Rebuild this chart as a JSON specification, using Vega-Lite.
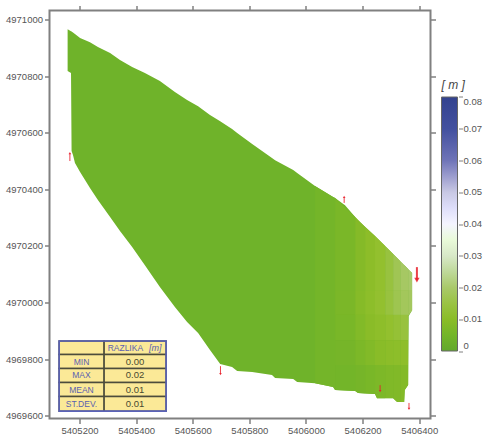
{"$schema":"https://vega.github.io/schema/vega-lite/v6.json","width":381,"height":408,"autosize":"none","padding":{"left":49.5,"top":10.5,"right":55.5,"bottom":22.5},"background":"white","view":{"stroke":"#808080","strokeWidth":2,"fill":null},
"config":{"font":"Liberation Sans","axis":{"grid":false,"domain":false,"tickColor":"#808080","tickWidth":1.5,"tickSize":5,"labelFont":"Liberation Sans","labelFontSize":9.5,"labelColor":"#555555","labelPadding":2,"title":null,"format":"d"}},
"datasets":{
"surface":[
{"x":5405158,"top":4970966,"bot":4970818,"v":0.004},{"x":5405170,"top":4970959,"bot":4970811,"v":0.004},{"x":5405172,"top":4970958,"bot":4970535,"v":0.004},{"x":5405177,"top":4970954,"bot":4970521,"v":0.004},{"x":5405184,"top":4970949,"bot":4970493,"v":0.004},{"x":5405202,"top":4970935,"bot":4970461,"v":0.004},{"x":5405237,"top":4970920,"bot":4970405,"v":0.004},{"x":5405265,"top":4970903,"bot":4970362,"v":0.004},{"x":5405308,"top":4970882,"bot":4970302,"v":0.004},{"x":5405343,"top":4970857,"bot":4970253,"v":0.004},{"x":5405386,"top":4970832,"bot":4970196,"v":0.004},{"x":5405431,"top":4970811,"bot":4970132,"v":0.004},{"x":5405484,"top":4970783,"bot":4970055,"v":0.004},{"x":5405537,"top":4970744,"bot":4969984,"v":0.004},{"x":5405580,"top":4970716,"bot":4969931,"v":0.004},{"x":5405619,"top":4970694,"bot":4969892,"v":0.004},{"x":5405661,"top":4970663,"bot":4969832,"v":0.004},{"x":5405697,"top":4970641,"bot":4969783,"v":0.004},{"x":5405739,"top":4970613,"bot":4969772,"v":0.004},{"x":5405757,"top":4970599,"bot":4969758,"v":0.004},{"x":5405810,"top":4970560,"bot":4969754,"v":0.004},{"x":5405880,"top":4970511,"bot":4969744,"v":0.004},{"x":5405891,"top":4970503,"bot":4969733,"v":0.004},{"x":5405955,"top":4970468,"bot":4969730,"v":0.004},{"x":5405969,"top":4970458,"bot":4969719,"v":0.004},{"x":5406032,"top":4970412,"bot":4969715,"v":0.004},{"x":5406096,"top":4970373,"bot":4969701,"v":0.004},{"x":5406103,"top":4970369,"bot":4969691,"v":0.004},{"x":5406138,"top":4970344,"bot":4969689,"v":0.004},{"x":5406174,"top":4970302,"bot":4969687,"v":0.004},{"x":5406184,"top":4970291,"bot":4969680,"v":0.004},{"x":5406244,"top":4970235,"bot":4969677,"v":0.004},{"x":5406251,"top":4970228,"bot":4969662,"v":0.004},{"x":5406308,"top":4970171,"bot":4969662,"v":0.004},{"x":5406322,"top":4970157,"bot":4969648,"v":0.004},{"x":5406347,"top":4970132,"bot":4969648,"v":0.004},{"x":5406349,"top":4970131,"bot":4969691,"v":0.004},{"x":5406361,"top":4970118,"bot":4969708,"v":0.004},{"x":5406363,"top":4970116,"bot":4969952,"v":0.004},{"x":5406375,"top":4970104,"bot":4969973,"v":0.004}],
"strips":[
{"id":"z","x":5406032,"top":4970412,"bot":4969715,"v":0.0052},{"id":"z","x":5406096,"top":4970373,"bot":4969701,"v":0.0052},{"id":"z","x":5406103,"top":4970369,"bot":4969691,"v":0.0052},
{"id":"a1","x":5406103,"top":4970369,"bot":4970044,"v":0.0065},{"id":"a1","x":5406174,"top":4970302,"bot":4970044,"v":0.0065},
{"id":"a2","x":5406103,"top":4970044,"bot":4969956,"v":0.0067},{"id":"a2","x":5406174,"top":4970044,"bot":4969956,"v":0.0067},
{"id":"a3","x":5406103,"top":4969956,"bot":4969867,"v":0.0062},{"id":"a3","x":5406174,"top":4969956,"bot":4969867,"v":0.0062},
{"id":"a4","x":5406103,"top":4969867,"bot":4969779,"v":0.0055},{"id":"a4","x":5406174,"top":4969867,"bot":4969779,"v":0.0055},
{"id":"a5","x":5406103,"top":4969779,"bot":4969691,"v":0.005},{"id":"a5","x":5406174,"top":4969779,"bot":4969687,"v":0.005},
{"id":"b1","x":5406174,"top":4970302,"bot":4970044,"v":0.0088},{"id":"b1","x":5406209,"top":4970267,"bot":4970044,"v":0.0088},
{"id":"b2","x":5406174,"top":4970044,"bot":4969956,"v":0.0092},{"id":"b2","x":5406209,"top":4970044,"bot":4969956,"v":0.0092},
{"id":"b3","x":5406174,"top":4969956,"bot":4969867,"v":0.0083},{"id":"b3","x":5406209,"top":4969956,"bot":4969867,"v":0.0083},
{"id":"b4","x":5406174,"top":4969867,"bot":4969779,"v":0.007},{"id":"b4","x":5406209,"top":4969867,"bot":4969779,"v":0.007},
{"id":"b5","x":5406174,"top":4969779,"bot":4969687,"v":0.0055},{"id":"b5","x":5406184,"top":4969779,"bot":4969680,"v":0.0055},{"id":"b5","x":5406209,"top":4969779,"bot":4969678,"v":0.0055},
{"id":"c1","x":5406209,"top":4970267,"bot":4970044,"v":0.0108},{"id":"c1","x":5406244,"top":4970235,"bot":4970044,"v":0.0108},
{"id":"c2","x":5406209,"top":4970044,"bot":4969956,"v":0.011},{"id":"c2","x":5406244,"top":4970044,"bot":4969956,"v":0.011},
{"id":"c3","x":5406209,"top":4969956,"bot":4969867,"v":0.01},{"id":"c3","x":5406244,"top":4969956,"bot":4969867,"v":0.01},
{"id":"c4","x":5406209,"top":4969867,"bot":4969779,"v":0.0083},{"id":"c4","x":5406244,"top":4969867,"bot":4969779,"v":0.0083},
{"id":"c5","x":5406209,"top":4969779,"bot":4969678,"v":0.0063},{"id":"c5","x":5406244,"top":4969779,"bot":4969677,"v":0.0063},
{"id":"d1","x":5406244,"top":4970235,"bot":4970044,"v":0.0127},{"id":"d1","x":5406280,"top":4970200,"bot":4970044,"v":0.0127},
{"id":"d2","x":5406244,"top":4970044,"bot":4969956,"v":0.0128},{"id":"d2","x":5406280,"top":4970044,"bot":4969956,"v":0.0128},
{"id":"d3","x":5406244,"top":4969956,"bot":4969867,"v":0.0113},{"id":"d3","x":5406280,"top":4969956,"bot":4969867,"v":0.0113},
{"id":"d4","x":5406244,"top":4969867,"bot":4969779,"v":0.0097},{"id":"d4","x":5406280,"top":4969867,"bot":4969779,"v":0.0097},
{"id":"d5","x":5406244,"top":4969779,"bot":4969677,"v":0.0072},{"id":"d5","x":5406251,"top":4969779,"bot":4969662,"v":0.0072},{"id":"d5","x":5406280,"top":4969779,"bot":4969662,"v":0.0072},
{"id":"e1","x":5406280,"top":4970200,"bot":4970044,"v":0.0145},{"id":"e1","x":5406308,"top":4970171,"bot":4970044,"v":0.0145},
{"id":"e2","x":5406280,"top":4970044,"bot":4969956,"v":0.0145},{"id":"e2","x":5406308,"top":4970044,"bot":4969956,"v":0.0145},
{"id":"e3","x":5406280,"top":4969956,"bot":4969867,"v":0.0127},{"id":"e3","x":5406308,"top":4969956,"bot":4969867,"v":0.0127},
{"id":"e4","x":5406280,"top":4969867,"bot":4969779,"v":0.0105},{"id":"e4","x":5406308,"top":4969867,"bot":4969779,"v":0.0105},
{"id":"e5","x":5406280,"top":4969779,"bot":4969662,"v":0.0077},{"id":"e5","x":5406308,"top":4969779,"bot":4969662,"v":0.0077},
{"id":"f1","x":5406308,"top":4970171,"bot":4970044,"v":0.017},{"id":"f1","x":5406333,"top":4970147,"bot":4970044,"v":0.017},
{"id":"f2","x":5406308,"top":4970044,"bot":4969956,"v":0.0165},{"id":"f2","x":5406333,"top":4970044,"bot":4969956,"v":0.0165},
{"id":"f3","x":5406308,"top":4969956,"bot":4969867,"v":0.0135},{"id":"f3","x":5406333,"top":4969956,"bot":4969867,"v":0.0135},
{"id":"f4","x":5406308,"top":4969867,"bot":4969779,"v":0.011},{"id":"f4","x":5406333,"top":4969867,"bot":4969779,"v":0.011},
{"id":"f5","x":5406308,"top":4969779,"bot":4969662,"v":0.008},{"id":"f5","x":5406322,"top":4969779,"bot":4969648,"v":0.008},{"id":"f5","x":5406333,"top":4969779,"bot":4969648,"v":0.008},
{"id":"g1","x":5406333,"top":4970147,"bot":4970044,"v":0.019},{"id":"g1","x":5406361,"top":4970118,"bot":4970044,"v":0.019},
{"id":"g2","x":5406333,"top":4970044,"bot":4969956,"v":0.018},{"id":"g2","x":5406361,"top":4970044,"bot":4969956,"v":0.018},
{"id":"g3","x":5406333,"top":4969956,"bot":4969867,"v":0.0143},{"id":"g3","x":5406361,"top":4969956,"bot":4969867,"v":0.0143},
{"id":"g4","x":5406333,"top":4969867,"bot":4969779,"v":0.0113},{"id":"g4","x":5406361,"top":4969867,"bot":4969779,"v":0.0113},
{"id":"g5","x":5406333,"top":4969779,"bot":4969648,"v":0.0085},{"id":"g5","x":5406347,"top":4969779,"bot":4969648,"v":0.0085},{"id":"g5","x":5406349,"top":4969779,"bot":4969691,"v":0.0085},{"id":"g5","x":5406361,"top":4969779,"bot":4969708,"v":0.0085},
{"id":"h1","x":5406361,"top":4970118,"bot":4970044,"v":0.02},{"id":"h1","x":5406375,"top":4970104,"bot":4970044,"v":0.02},
{"id":"h2","x":5406361,"top":4970044,"bot":4969952,"v":0.0185},{"id":"h2","x":5406375,"top":4970044,"bot":4969973,"v":0.0185}],
"arrows":[
{"x":5405166,"tail":4970500,"tip":4970528,"dir":"up","d":1},
{"x":5405698,"tail":4969775,"tip":4969747,"dir":"down","d":1},
{"x":5406135,"tail":4970352,"tip":4970373,"dir":"up","d":1},
{"x":5406392,"tail":4970125,"tip":4970079,"dir":"down","d":3},
{"x":5406262,"tail":4969708,"tip":4969687,"dir":"down","d":1},
{"x":5406364,"tail":4969645,"tip":4969624,"dir":"down","d":1}],
"cells":[
{"x0":5405128,"x1":5405287,"y0":4969864,"y1":4969816},{"x0":5405287,"x1":5405506,"y0":4969864,"y1":4969816},
{"x0":5405128,"x1":5405287,"y0":4969816,"y1":4969767},{"x0":5405287,"x1":5405506,"y0":4969816,"y1":4969767},
{"x0":5405128,"x1":5405287,"y0":4969767,"y1":4969717},{"x0":5405287,"x1":5405506,"y0":4969767,"y1":4969717},
{"x0":5405128,"x1":5405287,"y0":4969717,"y1":4969668},{"x0":5405287,"x1":5405506,"y0":4969717,"y1":4969668},
{"x0":5405128,"x1":5405287,"y0":4969668,"y1":4969616},{"x0":5405287,"x1":5405506,"y0":4969668,"y1":4969616}],
"scaleTicks":[{"v":0},{"v":0.01},{"v":0.02},{"v":0.03},{"v":0.04},{"v":0.05},{"v":0.06},{"v":0.07},{"v":0.08}]},
"resolve":{"scale":{"y":"independent"},"axis":{"x":"independent","y":"independent"}},
"layer":[
{"resolve":{"axis":{"x":"independent","y":"independent"}},
"layer":[
{"data":{"name":"surface"},"mark":{"type":"area","clip":true},"encoding":{
"x":{"field":"x","type":"quantitative","scale":{"domain":[5405094,5406440],"nice":false,"zero":false},"axis":{"orient":"bottom","values":[5405200,5405400,5405600,5405800,5406000,5406200,5406400]}},
"y":{"field":"top","type":"quantitative","scale":{"domain":[4969590,4971032],"nice":false,"zero":false},"axis":{"orient":"left","values":[4969600,4969800,4970000,4970200,4970400,4970600,4970800,4971000]}},
"y2":{"field":"bot"},
"color":{"field":"v","type":"quantitative","scale":{"domain":[0,0.004,0.0065,0.01,0.0125,0.02,0.03,0.038,0.05,0.06,0.07,0.08],"range":["#62a82c","#6fb32a","#7ab728","#8abc28","#92c02c","#a9c96a","#d8e8c8","#ffffff","#c8c8e4","#6f74b8","#42509f","#33428f"]},
"legend":{"orient":"none","legendX":392,"legendY":69.5,"direction":"vertical","title":"[ m ]","titleFontStyle":"italic","titleFontWeight":"normal","titleFontSize":12,"titleColor":"#444444","titlePadding":5,"titleFont":"Liberation Sans","gradientLength":254,"gradientThickness":16,"gradientStrokeColor":"#666666","gradientStrokeWidth":1,"values":[0,0.01,0.02,0.03,0.04,0.05,0.06,0.07,0.08],"format":".2~f","labelFontSize":9.5,"labelColor":"#555555","labelFont":"Liberation Sans","labelOffset":6}}}},
{"data":{"name":"strips"},"mark":{"type":"area"},"encoding":{
"x":{"field":"x","type":"quantitative","axis":null},
"y":{"field":"top","type":"quantitative","axis":null},
"y2":{"field":"bot"},
"detail":{"field":"id"},
"color":{"field":"v","type":"quantitative"}}},
{"data":{"name":"cells"},"mark":{"type":"rect","fill":"#fbe997","stroke":"#4c4c3c","strokeWidth":1.5},"encoding":{
"x":{"field":"x0","type":"quantitative","axis":{"orient":"top","labels":false,"values":[5405200,5405400,5405600,5405800,5406000,5406200,5406400]}},"x2":{"field":"x1"},
"y":{"field":"y0","type":"quantitative","axis":{"orient":"right","labels":false,"values":[4969600,4969800,4970000,4970200,4970400,4970600,4970800,4971000]}},"y2":{"field":"y1"}}},
{"data":{"values":[{"x0":5405128,"x1":5405506,"y0":4969864,"y1":4969616}]},"mark":{"type":"rect","fillOpacity":0,"stroke":"#5a62b8","strokeWidth":1.6},"encoding":{
"x":{"field":"x0","type":"quantitative","axis":null},"x2":{"field":"x1"},"y":{"field":"y0","type":"quantitative","axis":null},"y2":{"field":"y1"}}},
{"data":{"values":[{"x":5405207,"y":4969791,"t":"MIN"},{"x":5405207,"y":4969742,"t":"MAX"},{"x":5405207,"y":4969692,"t":"MEAN"},{"x":5405207,"y":4969642,"t":"ST.DEV."},{"x":5405362,"y":4969840,"t":"RAZLIKA"}]},"mark":{"type":"text","fontSize":8.5,"color":"#5a5fb0","font":"Liberation Sans"},"encoding":{
"x":{"field":"x","type":"quantitative","axis":null},"y":{"field":"y","type":"quantitative","axis":null},"text":{"field":"t"}}},
{"data":{"values":[{"x":5405468,"y":4969840,"t":"[m]"}]},"mark":{"type":"text","fontSize":9,"fontStyle":"italic","color":"#5a5fb0","font":"Liberation Sans"},"encoding":{
"x":{"field":"x","type":"quantitative","axis":null},"y":{"field":"y","type":"quantitative","axis":null},"text":{"field":"t"}}},
{"data":{"values":[{"x":5405396,"y":4969791,"t":"0.00"},{"x":5405396,"y":4969742,"t":"0.02"},{"x":5405396,"y":4969692,"t":"0.01"},{"x":5405396,"y":4969642,"t":"0.01"}]},"mark":{"type":"text","fontSize":9.5,"color":"#4a4a30","font":"Liberation Sans"},"encoding":{
"x":{"field":"x","type":"quantitative","axis":null},"y":{"field":"y","type":"quantitative","axis":null},"text":{"field":"t"}}},
{"data":{"name":"arrows"},"mark":{"type":"rule","color":"#e8202a","opacity":0.85},"encoding":{
"x":{"field":"x","type":"quantitative","axis":null},"y":{"field":"tail","type":"quantitative","axis":null},"y2":{"field":"tip"},
"strokeWidth":{"field":"d","type":"quantitative","scale":{"domain":[1,3],"range":[1,2]},"legend":null}}},
{"data":{"name":"arrows"},"transform":[{"filter":"datum.dir === 'up'"}],"mark":{"type":"point","shape":"triangle-up","filled":true,"color":"#e8202a","opacity":0.85},"encoding":{
"x":{"field":"x","type":"quantitative","axis":null},"y":{"field":"tip","type":"quantitative","axis":null},
"size":{"field":"d","type":"quantitative","scale":{"domain":[1,3],"range":[7,28]},"legend":null}}},
{"data":{"name":"arrows"},"transform":[{"filter":"datum.dir === 'down'"}],"mark":{"type":"point","shape":"triangle-down","filled":true,"color":"#e8202a","opacity":0.85},"encoding":{
"x":{"field":"x","type":"quantitative","axis":null},"y":{"field":"tip","type":"quantitative","axis":null},
"size":{"field":"d","type":"quantitative","scale":{"domain":[1,3],"range":[7,28]},"legend":null}}}
]},
{"data":{"name":"scaleTicks"},"mark":{"type":"rule","opacity":0},"encoding":{
"y":{"field":"v","type":"quantitative","scale":{"domain":[0,0.08],"range":[341,86],"nice":false,"zero":false},"axis":{"orient":"right","offset":28,"labels":false,"tickSize":4,"tickWidth":1,"tickCount":9,"values":[0,0.01,0.02,0.03,0.04,0.05,0.06,0.07,0.08]}}}}
]}
